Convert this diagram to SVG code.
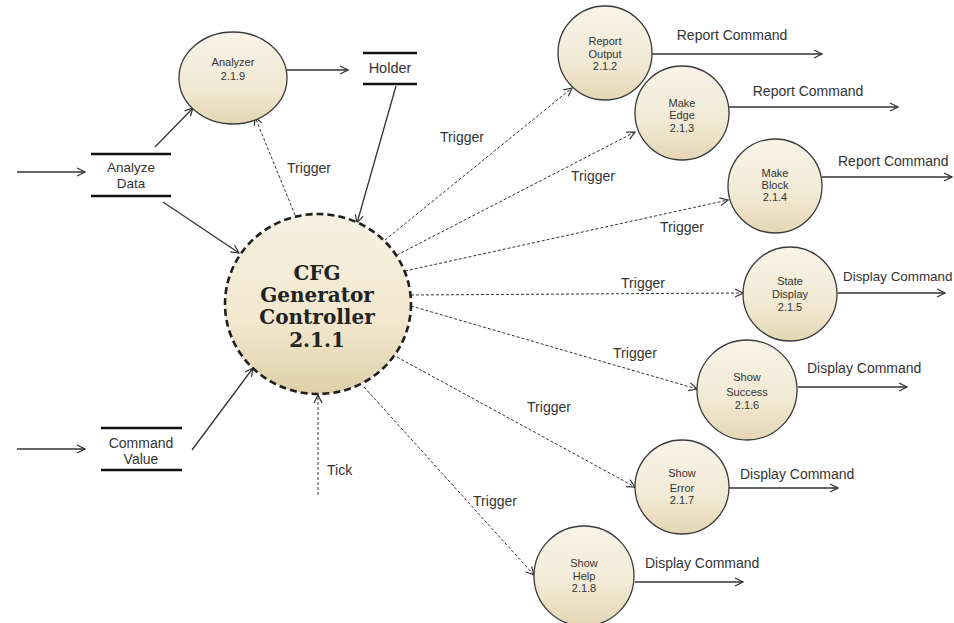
<svg xmlns="http://www.w3.org/2000/svg" width="954" height="623" viewBox="0 0 954 623">
<defs>
<linearGradient id="g" x1="0" y1="0" x2="0" y2="1">
<stop offset="0" stop-color="#f8f4e8"/><stop offset="0.6" stop-color="#f2e9d4"/><stop offset="1" stop-color="#e4d6b3"/>
</linearGradient>
<linearGradient id="gc" x1="0" y1="0" x2="0" y2="1">
<stop offset="0" stop-color="#f8f1e0"/><stop offset="0.6" stop-color="#f2e7cf"/><stop offset="1" stop-color="#e0cfa8"/>
</linearGradient>
<marker id="arr" viewBox="0 0 10 10" refX="9" refY="5" markerWidth="10" markerHeight="10" markerUnits="userSpaceOnUse" orient="auto">
<path d="M1,1 L9,5 L1,9" fill="none" stroke="#333" stroke-width="1.2"/>
</marker>
<style>
.proc{fill:url(#g);stroke:#3a3a3a;stroke-width:1.3}
.ctrl{fill:url(#gc);stroke:#1e1e1e;stroke-width:2.6;stroke-dasharray:7 4}
.solid{fill:none;stroke:#333;stroke-width:1.3;marker-end:url(#arr)}
.dash{fill:none;stroke:#333;stroke-width:1;stroke-dasharray:3 2;marker-end:url(#arr)}
.store{stroke:#111;stroke-width:2.6}
.ntxt{font-family:"Liberation Sans",Arial,sans-serif;font-size:11px;fill:#333;text-anchor:middle}
.lbl{font-family:"Liberation Sans",Arial,sans-serif;font-size:14px;fill:#333}
.stxt{font-family:"Liberation Sans",Arial,sans-serif;font-size:13.5px;fill:#333;text-anchor:middle}
.ctxt{font-family:"DejaVu Serif","Liberation Serif",serif;font-weight:bold;font-size:20px;fill:#222;text-anchor:middle}
</style>
</defs>
<rect width="954" height="623" fill="#fff"/>

<g id="connectors">
<line class="solid" x1="17" y1="172" x2="85" y2="172"/>
<line class="solid" x1="155" y1="147" x2="193" y2="108"/>
<line class="solid" x1="163" y1="202" x2="239" y2="253"/>
<line class="solid" x1="287" y1="70" x2="348" y2="70"/>
<line class="solid" x1="396" y1="86" x2="357" y2="223"/>
<line class="dash" x1="295" y1="215" x2="255" y2="117"/>
<line class="solid" x1="17" y1="449" x2="85" y2="449"/>
<line class="solid" x1="192" y1="450" x2="253" y2="368"/>
<line class="dash" x1="318" y1="495" x2="318" y2="395"/>
<line class="dash" x1="385" y1="240" x2="572" y2="88"/>
<line class="dash" x1="397" y1="255" x2="635" y2="132"/>
<line class="dash" x1="405" y1="271" x2="728" y2="200"/>
<line class="dash" x1="411" y1="295" x2="743" y2="293"/>
<line class="dash" x1="411" y1="306" x2="697" y2="389"/>
<line class="dash" x1="397" y1="357" x2="635" y2="487"/>
<line class="dash" x1="364" y1="387" x2="534" y2="575"/>
<line class="solid" x1="652" y1="54" x2="822" y2="54"/>
<line class="solid" x1="729" y1="107" x2="898" y2="107"/>
<line class="solid" x1="822" y1="177" x2="952" y2="177"/>
<line class="solid" x1="838" y1="293" x2="945" y2="293"/>
<line class="solid" x1="798" y1="387" x2="907" y2="387"/>
<line class="solid" x1="729" y1="488" x2="838" y2="488"/>
<line class="solid" x1="635" y1="582" x2="743" y2="582"/>
<text class="lbl" x="309" y="173" text-anchor="middle">Trigger</text>
<text class="lbl" x="327" y="475">Tick</text>
<text class="lbl" x="462" y="142" text-anchor="middle">Trigger</text>
<text class="lbl" x="593" y="181" text-anchor="middle">Trigger</text>
<text class="lbl" x="682" y="232" text-anchor="middle">Trigger</text>
<text class="lbl" x="643" y="288" text-anchor="middle">Trigger</text>
<text class="lbl" x="635" y="358" text-anchor="middle">Trigger</text>
<text class="lbl" x="549" y="412" text-anchor="middle">Trigger</text>
<text class="lbl" x="495" y="506" text-anchor="middle">Trigger</text>
<text class="lbl" x="732" y="40" text-anchor="middle">Report Command</text>
<text class="lbl" x="808" y="96" text-anchor="middle">Report Command</text>
<text class="lbl" x="838" y="166">Report Command</text>
<text class="lbl" x="843" y="281" style="font-size:13.4px">Display Command</text>
<text class="lbl" x="807" y="373">Display Command</text>
<text class="lbl" x="740" y="479">Display Command</text>
<text class="lbl" x="645" y="568">Display Command</text>
</g>

<g id="analyze-data">
<line class="store" x1="91" y1="154" x2="171" y2="154"/>
<line class="store" x1="91" y1="196" x2="171" y2="196"/>
<text class="stxt" x="131" y="172">Analyze</text>
<text class="stxt" x="131" y="188">Data</text>
</g>

<g id="command-value">
<line class="store" x1="101" y1="428" x2="182" y2="428"/>
<line class="store" x1="101" y1="470" x2="182" y2="470"/>
<text class="stxt" x="141" y="448" style="font-size:14px">Command</text>
<text class="stxt" x="141" y="464" style="font-size:14px">Value</text>
</g>

<g id="holder">
<line class="store" x1="363" y1="53" x2="417" y2="53"/>
<line class="store" x1="363" y1="84" x2="417" y2="84"/>
<text class="stxt" x="390" y="73" style="font-size:14.5px">Holder</text>
</g>

<g id="analyzer">
<ellipse class="proc" cx="233" cy="78" rx="54" ry="46"/>
<text class="ntxt" x="233" y="66">Analyzer</text>
<text class="ntxt" x="233" y="80">2.1.9</text>
</g>

<g id="controller">
<ellipse class="ctrl" cx="318" cy="304" rx="93" ry="90"/>
<text class="ctxt" x="317" y="280">CFG</text>
<text class="ctxt" x="317" y="302">Generator</text>
<text class="ctxt" x="317" y="324">Controller</text>
<text class="ctxt" x="317" y="347">2.1.1</text>
</g>

<g id="report-output">
<circle class="proc" cx="605" cy="53" r="47"/>
<text class="ntxt" x="605" y="45">Report</text>
<text class="ntxt" x="605" y="58">Output</text>
<text class="ntxt" x="605" y="70">2.1.2</text>
</g>

<g id="make-edge">
<circle class="proc" cx="682" cy="113" r="47"/>
<text class="ntxt" x="682" y="107">Make</text>
<text class="ntxt" x="682" y="119">Edge</text>
<text class="ntxt" x="682" y="132">2.1.3</text>
</g>

<g id="make-block">
<circle class="proc" cx="775" cy="186" r="47"/>
<text class="ntxt" x="775" y="177">Make</text>
<text class="ntxt" x="775" y="189">Block</text>
<text class="ntxt" x="775" y="201">2.1.4</text>
</g>

<g id="state-display">
<circle class="proc" cx="790" cy="294" r="47"/>
<text class="ntxt" x="790" y="285">State</text>
<text class="ntxt" x="790" y="298">Display</text>
<text class="ntxt" x="790" y="311">2.1.5</text>
</g>

<g id="show-success">
<circle class="proc" cx="747" cy="390" r="50"/>
<text class="ntxt" x="747" y="381">Show</text>
<text class="ntxt" x="747" y="396">Success</text>
<text class="ntxt" x="747" y="409">2.1.6</text>
</g>

<g id="show-error">
<circle class="proc" cx="682" cy="487" r="47"/>
<text class="ntxt" x="682" y="477">Show</text>
<text class="ntxt" x="682" y="492">Error</text>
<text class="ntxt" x="682" y="504">2.1.7</text>
</g>

<g id="show-help">
<circle class="proc" cx="584" cy="576" r="50"/>
<text class="ntxt" x="584" y="567">Show</text>
<text class="ntxt" x="584" y="580">Help</text>
<text class="ntxt" x="584" y="592">2.1.8</text>
</g>
</svg>
